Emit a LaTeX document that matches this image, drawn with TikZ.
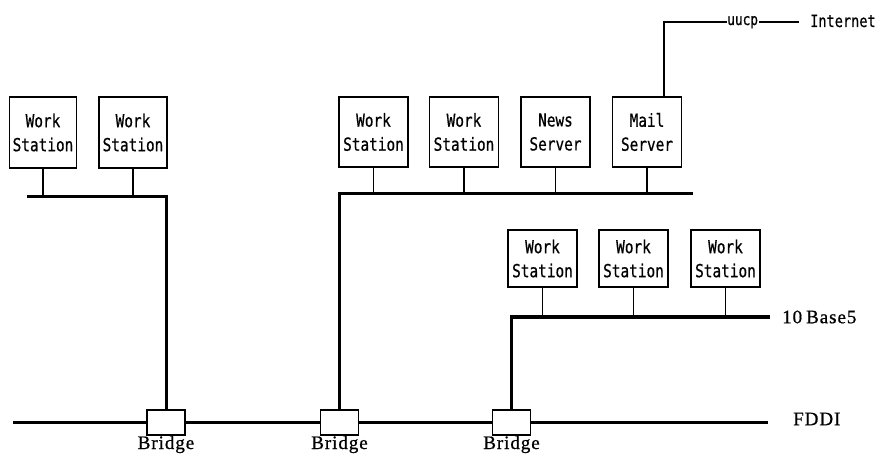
\documentclass[tikz,border=0pt]{standalone}
\usepackage{fontspec}
\usetikzlibrary{calc}
\newfontfamily\boxfont[FakeStretch=0.8,FakeBold=0.6]{DejaVu Sans Mono}
\newfontfamily\serfont[LetterSpace=5,FakeBold=0.8]{Liberation Serif}
\begin{document}
\begin{tikzpicture}[x=1pt,y=-1pt,
  unit/.style={draw,line width=1.3pt,inner sep=0pt,align=center,
    font=\boxfont\fontsize{18}{24}\selectfont,minimum width=69pt},
  tall/.style={unit,minimum height=70pt},
  short/.style={unit,minimum height=57pt},
  bridgebox/.style={draw,line width=1.3pt,fill=white,minimum width=38pt,minimum height=25pt,inner sep=0pt},
  stub/.style={line width=1.3pt},
  bus/.style={line width=3pt},
  fddi/.style={line width=2.8pt},
  thinline/.style={line width=1.1pt},
  lbl/.style={font=\serfont\fontsize{19}{19}\selectfont,inner sep=0pt},
  slbl/.style={font=\boxfont\fontsize{16}{16}\selectfont,inner sep=0pt}]
\useasboundingbox (0,0) rectangle (878,454);

% left group
\node[tall,minimum width=67pt,minimum height=71pt] (ws1) at (43,132.5) {Work\\Station};
\node[tall,minimum width=68pt,minimum height=71pt] (ws2) at (133,132.5) {Work\\Station};
% middle group
\node[tall] (ws3) at (373.5,132) {Work\\Station};
\node[tall] (ws4) at (464,132) {Work\\Station};
\node[tall] (news) at (555.5,132) {News\\Server};
\node[tall] (mail) at (647,132) {Mail\\Server};
% right group
\node[short] (ws5) at (542.5,258.5) {Work\\Station};
\node[short] (ws6) at (633.5,258.5) {Work\\Station};
\node[short] (ws7) at (725.5,258.5) {Work\\Station};

% bridges
\node[bridgebox] (br1) at (166,422.5) {};
\node[bridgebox] (br2) at (339.5,422.5) {};
\node[bridgebox] (br3) at (511.5,422.5) {};
\node[lbl,anchor=base] (bl1) at (166,449) {Bridge};
\node[lbl,anchor=base] (bl2) at (339.5,449) {Bridge};
\node[lbl,anchor=base] (bl3) at (511.5,449) {Bridge};

% FDDI ring
\coordinate (fddiL) at (13,422.5);
\coordinate (fddiR) at (768,422.5);
\node[lbl,anchor=west] (fddi) at (793,419) {FDDI};
\draw[fddi] (fddiL) -- (br1.west);
\draw[fddi,line width=2.4pt] (br1.east) -- (br2.west);
\draw[fddi,line width=2.4pt] (br2.east) -- (br3.west);
\draw[fddi,line width=2.2pt] (br3.east) -- (fddiR);

% left bus
\coordinate (lbusL) at (27,197);
\draw[bus] (lbusL) -| (br1.north);
\draw[stub] (ws1.south) -- (ws1.south |- lbusL);
\draw[stub] (ws2.south) -- (ws2.south |- lbusL);

% middle bus
\coordinate (mbusR) at (693,194);
\draw[bus] (mbusR) -| (br2.north);
\draw[stub] (ws3.south) -- (ws3.south |- mbusR);
\draw[stub] (ws4.south) -- (ws4.south |- mbusR);
\draw[stub] (news.south) -- (news.south |- mbusR);
\draw[stub] (mail.south) -- (mail.south |- mbusR);

% right bus (10Base5)
\coordinate (rbusR) at (770,317);
\node[lbl,anchor=west] (tb5) at (782,317) {10\kern4pt Base5};
\draw[bus] (rbusR) -| (br3.north);
\draw[stub] (ws5.south) -- (ws5.south |- rbusR);
\draw[stub] (ws6.south) -- (ws6.south |- rbusR);
\draw[stub] (ws7.south) -- (ws7.south |- rbusR);

% uucp link
\node[slbl,anchor=base west] (uucp) at (727,25) {uucp};
\node[slbl,anchor=base west,font=\boxfont\fontsize{17}{17}\selectfont] (inet) at (810,27) {Internet};
\coordinate (mailup) at ($(mail.north)+(17,0)$);
\coordinate (uucpL) at (727,22);
\coordinate (uucpR) at (759,22);
\coordinate (inetL) at (799,22);
\draw[thinline] (mailup) |- (uucpL);
\draw[thinline] (uucpR) -- (inetL);
\end{tikzpicture}
\end{document}
